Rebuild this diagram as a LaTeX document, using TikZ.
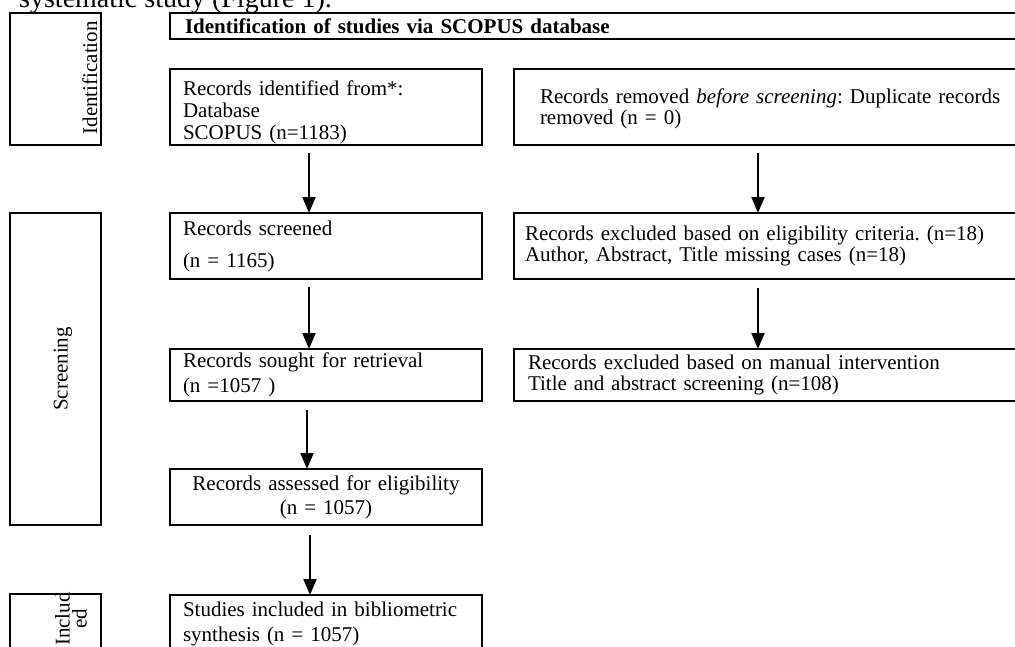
\documentclass[tikz,border=0pt]{standalone}
\usepackage{fontspec}
\setmainfont{Liberation Serif}
\usetikzlibrary{arrows.meta,calc}
\frenchspacing
\tikzset{
  box/.style={draw, line width=2pt, outer sep=0pt, inner ysep=0pt, anchor=north west, align=left},
  sidebox/.style={draw, line width=2pt, outer sep=0pt, anchor=north west, inner sep=0pt},
  arr/.style={line width=2pt, -{Triangle[length=16pt,width=13pt]}},
  txt/.style={font=\fontsize{21}{#1}\selectfont},
}
\begin{document}
\begin{tikzpicture}[x=1pt,y=-1pt]
\useasboundingbox (0,0) rectangle (1015,646);
\fill[white] (0,0) rectangle (1015,646);
\clip (0,0) rectangle (1015,646);

\node[anchor=base west, inner sep=0pt, font=\fontsize{28}{30}\selectfont] (cap) at (19,7) {systematic study (Figure 1).};

% side label boxes
\node[sidebox, minimum width=91pt, minimum height=132pt] (idbox) at (10,13) {};
\node[sidebox, minimum width=91pt, minimum height=312pt] (scbox) at (10,213) {};
\node[sidebox, minimum width=91pt, minimum height=80pt] (inbox) at (10,594) {};
\node[rotate=90, anchor=base east, inner sep=0pt, txt=22] (idlab) at (97,21) {Identification};
\node[rotate=90, anchor=center, inner sep=0pt, txt=22] (sclab) at (63,369) {Screening};
\node[rotate=90, anchor=center, inner sep=0pt, align=center, txt=17] (inlab) at (71,619) {Includ\\ed};

% title
\node[box, inner xsep=15pt, text width=840pt, minimum height=26pt, font=\fontsize{21}{22}\bfseries] (title) at (170,13) {Identification of studies via SCOPUS database};

% left column
\node[box, inner xsep=13pt, text width=286pt, text height=26pt, text depth=50pt, txt=22] (ident) at (170,69) {Records identified from*:\\Database\\SCOPUS (n=1183)};
\node[box, inner xsep=13pt, text width=286pt, minimum height=66pt, txt=32] (screened) at (170,213) {Records screened\\(n = 1165)};
\node[box, inner xsep=13pt, text width=286pt, minimum height=52pt, txt=25] (sought) at (170,349) {Records sought for retrieval\\(n =1057 )};
\node[box, inner xsep=13pt, text width=286pt, minimum height=56pt, align=center, txt=24] (assessed) at (170,469) {Records assessed for eligibility\\(n = 1057)};
\node[box, inner xsep=13pt, text width=286pt, minimum height=58pt, txt=25] (studies) at (170,595) {Studies included in bibliometric\\synthesis (n = 1057)};

% right column
\node[box, inner xsep=26pt, text width=478pt, text height=34pt, text depth=42pt, txt=21] (removed) at (514,69) {Records removed \textit{before screening}: Duplicate records\\removed (n = 0)};
\node[box, inner xsep=11pt, text width=508pt, minimum height=66pt, txt=21] (excl1) at (514,213) {Records excluded based on eligibility criteria. (n=18)\\Author, Abstract, Title missing cases (n=18)};
\node[box, inner xsep=14pt, text width=502pt, minimum height=52pt, txt=21] (excl2) at (514,349) {Records excluded based on manual intervention\\Title and abstract screening (n=108)};

% arrows
\draw[arr] ([xshift=-17pt,yshift=-8pt]ident.south) -- ([xshift=-17pt]screened.north);
\draw[arr] ([xshift=-17pt,yshift=-8pt]screened.south) -- ([xshift=-17pt]sought.north);
\draw[arr] ([xshift=-19pt,yshift=-9pt]sought.south) -- ([xshift=-19pt]assessed.north);
\draw[arr] ([xshift=-16pt,yshift=-10pt]assessed.south) -- ([xshift=-16pt]studies.north);
\draw[arr] ([xshift=-21pt,yshift=-8pt]removed.south) -- ([xshift=-21pt]excl1.north);
\draw[arr] ([xshift=-21pt,yshift=-9pt]excl1.south) -- ([xshift=-21pt]excl2.north);
\end{tikzpicture}
\end{document}
